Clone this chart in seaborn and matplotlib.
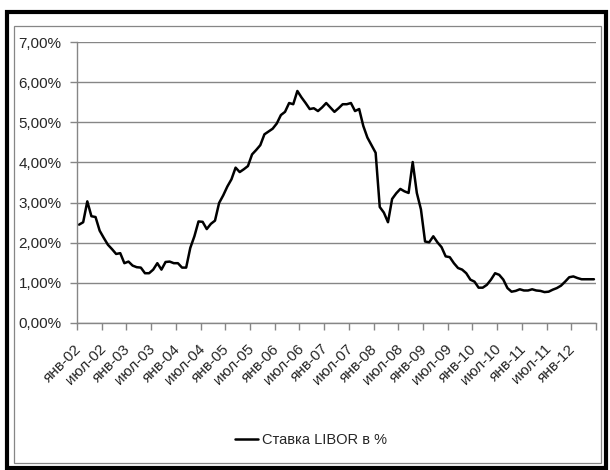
import matplotlib
matplotlib.use("Agg")
import matplotlib.pyplot as plt
from matplotlib.patches import Rectangle
from matplotlib.ticker import FixedLocator, FuncFormatter, NullFormatter
from matplotlib.transforms import ScaledTranslation
import numpy as np
import pandas as pd
import seaborn as sns

# Monthly LIBOR rate, %, January 2002 - June 2012
libor = [
    2.45, 2.51, 3.03, 2.66, 2.64, 2.30, 2.12, 1.95, 1.84, 1.72, 1.74, 1.49,
    1.53, 1.43, 1.39, 1.38, 1.24, 1.24, 1.33, 1.49, 1.33, 1.52, 1.53, 1.49,
    1.49, 1.38, 1.38, 1.87, 2.16, 2.53, 2.52, 2.34, 2.47, 2.55, 2.99, 3.18,
    3.40, 3.58, 3.87, 3.76, 3.83, 3.91, 4.20, 4.31, 4.43, 4.70, 4.77, 4.84,
    4.97, 5.18, 5.26, 5.48, 5.45, 5.78, 5.62, 5.48, 5.33, 5.35, 5.28, 5.37,
    5.48, 5.37, 5.26, 5.35, 5.45, 5.45, 5.48, 5.28, 5.33, 4.91, 4.62, 4.43,
    4.24, 2.89, 2.75, 2.51, 3.09, 3.23, 3.34, 3.28, 3.24, 4.01, 3.24, 2.83,
    2.03, 2.01, 2.16, 2.01, 1.89, 1.66, 1.64, 1.49, 1.37, 1.33, 1.24, 1.08,
    1.03, 0.88, 0.88, 0.95, 1.08, 1.24, 1.20, 1.08, 0.87, 0.78, 0.80, 0.84,
    0.81, 0.81, 0.84, 0.81, 0.80, 0.77, 0.78, 0.83, 0.87, 0.93, 1.03, 1.14,
    1.16, 1.12, 1.09, 1.09, 1.09, 1.09,
]
tick_labels = [
    "янв-02", "июл-02", "янв-03", "июл-03", "янв-04", "июл-04", "янв-05",
    "июл-05", "янв-06", "июл-06", "янв-07", "июл-07", "янв-08", "июл-08",
    "янв-09", "июл-09", "янв-10", "июл-10", "янв-11", "июл-11", "янв-12",
]
series_name = "Ставка LIBOR в %"
y_ticks = [0, 1, 2, 3, 4, 5, 6, 7]

df = pd.DataFrame({"month": np.arange(len(libor)), "rate": libor})

sns.set_theme(style="white")
narrow = ["Liberation Sans Narrow", "Liberation Sans", "DejaVu Sans"]
regular = ["Liberation Sans", "DejaVu Sans"]
plt.rcParams["font.family"] = narrow

W, H = 610, 470
fig = plt.figure(figsize=(W / 100, H / 100), dpi=100)
fig.patch.set_facecolor("white")

ax = fig.add_axes([77 / W, 1 - 323 / H, (596 - 77) / W, (323 - 42) / H])
sns.lineplot(data=df, x="month", y="rate", ax=ax, color="black",
             linewidth=1.8, label=series_name, legend=False)

grey = "#868686"
n = len(libor)
ax.set_xlim(-0.5, n - 0.5)
ax.set_ylim(0, 7)
ax.set_yticks(y_ticks)
ax.yaxis.set_major_formatter(FuncFormatter(lambda v, p: f"{v:.2f}%".replace(".", ",")))
ax.grid(axis="y", color=grey, linewidth=1.0)
ax.grid(axis="x", visible=False)

# tick marks between half-year groups, labels at the first month of each group
ax.xaxis.set_major_locator(FixedLocator(np.arange(-0.5, n, 6)))
ax.xaxis.set_major_formatter(NullFormatter())
ax.xaxis.set_minor_locator(FixedLocator(np.arange(0, n, 6)[:len(tick_labels)]))
ax.set_xticklabels(tick_labels, minor=True, rotation=45, ha="right", va="center",
                   rotation_mode="anchor", fontsize=11, family=regular)
shift = ScaledTranslation(-4 / 100, 0, fig.dpi_scale_trans)
for lbl in ax.xaxis.get_minorticklabels():
    lbl.set_transform(lbl.get_transform() + shift)
ax.tick_params(axis="x", which="major", direction="out", length=5,
               color=grey, width=1, bottom=True)
ax.tick_params(axis="x", which="minor", length=0, pad=17)
ax.tick_params(axis="y", direction="out", length=5, color=grey, width=1,
               left=True, labelsize=11, pad=6)
ax.set_xlabel("")
ax.set_ylabel("")

for side in ("top", "right"):
    ax.spines[side].set_visible(False)
for side in ("left", "bottom"):
    ax.spines[side].set_color(grey)
    ax.spines[side].set_linewidth(1.0)

fig.legend(loc="center", bbox_to_anchor=(311 / W, 1 - 440 / H), frameon=False,
           fontsize=10.5, handlelength=1.6, handletextpad=0.3)

# chart area frame and outer border
fig.add_artist(Rectangle((13.5 / W, 1 - 462.5 / H), 587 / W, 437 / H,
                         transform=fig.transFigure, fill=False,
                         edgecolor=grey, linewidth=0.9))
fig.add_artist(Rectangle((7 / W, 1 - 468 / H), 599 / W, 456 / H,
                         transform=fig.transFigure, fill=False,
                         edgecolor="black", linewidth=3.0))

fig.savefig("out.png", dpi=100)
